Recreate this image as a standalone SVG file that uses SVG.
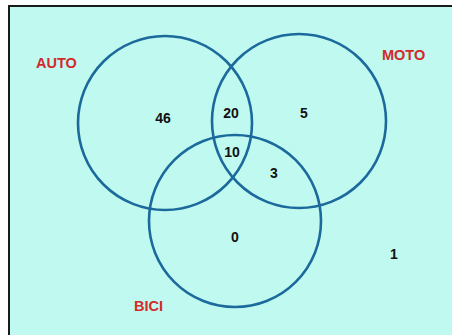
<svg xmlns="http://www.w3.org/2000/svg" width="452" height="335" viewBox="0 0 452 335">
<style>
.set{fill:none;stroke:#1c6a9c;stroke-width:2.6}
.lbl{font-family:"Liberation Sans",Arial,sans-serif;font-weight:bold;font-size:14.5px;fill:#d42a2a}
.num{font-family:"Liberation Sans",Arial,sans-serif;font-weight:bold;font-size:14px;fill:#111;text-anchor:middle}
</style>
<rect x="0" y="0" width="452" height="335" fill="#ffffff"/>
<rect x="9" y="6" width="446" height="333" fill="#c0f9f0" stroke="#1a1a1a" stroke-width="2"/>
<g id="auto">
<circle class="set" cx="165" cy="123" r="87"/>
<text class="lbl" x="36" y="68">AUTO</text>
</g>
<g id="moto">
<circle class="set" cx="299" cy="121" r="87"/>
<text class="lbl" x="382" y="60">MOTO</text>
</g>
<g id="bici">
<circle class="set" cx="235" cy="221" r="86"/>
<text class="lbl" x="134" y="311">BICI</text>
</g>
<g id="values">
<text class="num" x="163" y="123">46</text>
<text class="num" x="231" y="118">20</text>
<text class="num" x="304" y="118">5</text>
<text class="num" x="232" y="157">10</text>
<text class="num" x="274" y="178">3</text>
<text class="num" x="235" y="242">0</text>
<text class="num" x="394" y="259">1</text>
</g>
</svg>
